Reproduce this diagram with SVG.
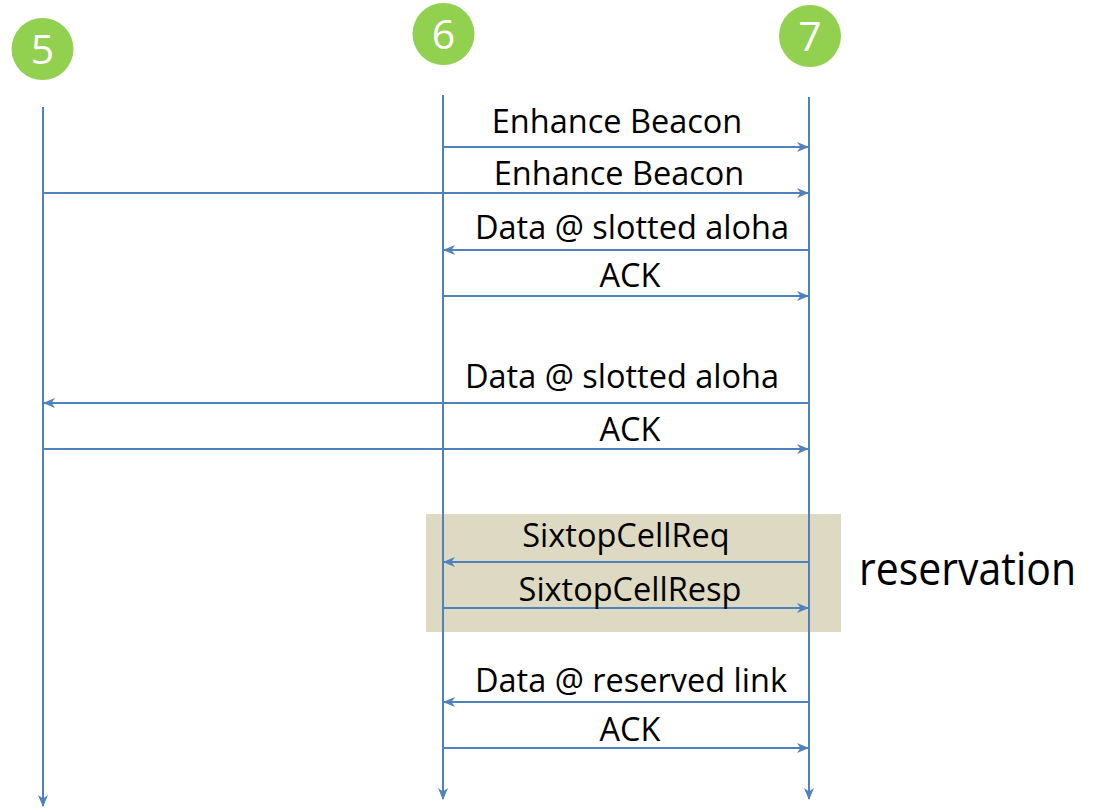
<svg xmlns="http://www.w3.org/2000/svg" width="1099" height="810" viewBox="0 0 1099 810">
  <style>
    .msg { stroke: #4F81BD; stroke-width: 2; fill: none; marker-end: url(#head); }
    .node-circle { fill: #92D050; }
    .node-label { font-family: "Open Sans", "Liberation Sans", sans-serif; font-size: 41px; fill: #FFFFFF; text-anchor: middle; }
    .msg-label { font-family: "Open Sans", "Liberation Sans", sans-serif; font-size: 32.5px; fill: #000000; text-anchor: middle; }
    .note { font-family: "Open Sans", "Liberation Sans", sans-serif; font-size: 41px; fill: #000000; }
  </style>
  <defs>
    <marker id="head" viewBox="0 0 12 10" refX="11" refY="5" markerWidth="12" markerHeight="10" markerUnits="userSpaceOnUse" orient="auto">
      <path d="M0,0 L12,5 L0,10 L3.5,5 z" fill="#4F81BD"/>
    </marker>
  </defs>

  <rect width="1099" height="810" fill="#FFFFFF"/>

  <!-- reservation phase background -->
  <rect id="reservation-band" x="426" y="514" width="415" height="118" fill="#DDD9C3"/>

  <!-- nodes with their lifelines -->
  <g id="node-5">
    <circle class="node-circle" cx="42.5" cy="49" r="31"/>
    <text class="node-label" x="42.5" y="64">5</text>
    <line class="msg" x1="43" y1="107" x2="43" y2="806"/>
  </g>
  <g id="node-6">
    <circle class="node-circle" cx="443.5" cy="34" r="31"/>
    <text class="node-label" x="443.5" y="49">6</text>
    <line class="msg" x1="443" y1="95" x2="443" y2="799"/>
  </g>
  <g id="node-7">
    <circle class="node-circle" cx="810" cy="36" r="31"/>
    <text class="node-label" x="810" y="51">7</text>
    <line class="msg" x1="809" y1="97" x2="809" y2="799"/>
  </g>

  <!-- messages -->
  <g id="connectors">
    <line class="msg" x1="443" y1="147" x2="808" y2="147"/>
    <line class="msg" x1="43" y1="193" x2="808" y2="193"/>
    <line class="msg" x1="809" y1="250" x2="444" y2="250"/>
    <line class="msg" x1="443" y1="296" x2="808" y2="296"/>
    <line class="msg" x1="809" y1="403" x2="44" y2="403"/>
    <line class="msg" x1="43" y1="449" x2="808" y2="449"/>
    <line class="msg" x1="809" y1="562" x2="444" y2="562"/>
    <line class="msg" x1="443" y1="608" x2="808" y2="608"/>
    <line class="msg" x1="809" y1="702" x2="444" y2="702"/>
    <line class="msg" x1="443" y1="748" x2="808" y2="748"/>
  </g>

  <!-- message labels -->
  <g id="labels">
    <text class="msg-label" x="617" y="133">Enhance Beacon</text>
    <text class="msg-label" x="619" y="185">Enhance Beacon</text>
    <text class="msg-label" x="632" y="239">Data @ slotted aloha</text>
    <text class="msg-label" x="630" y="287">ACK</text>
    <text class="msg-label" x="622" y="388">Data @ slotted aloha</text>
    <text class="msg-label" x="630" y="441">ACK</text>
    <text class="msg-label" x="626" y="547">SixtopCellReq</text>
    <text class="msg-label" x="630" y="601">SixtopCellResp</text>
    <text class="msg-label" x="631" y="692">Data @ reserved link</text>
    <text class="msg-label" x="630" y="741">ACK</text>
  </g>

  <text class="note" transform="translate(859,585) scale(1,1.12)" x="0" y="0">reservation</text>
</svg>
